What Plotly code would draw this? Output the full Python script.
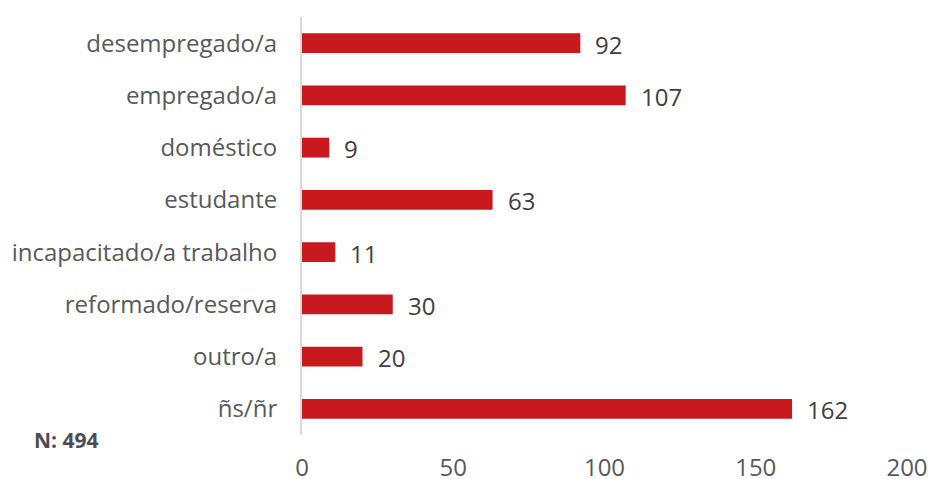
import plotly.graph_objects as go

categories = ["desempregado/a", "empregado/a", "doméstico", "estudante",
              "incapacitado/a trabalho", "reformado/reserva", "outro/a", "ñs/ñr"]
values = [92, 107, 9, 63, 11, 30, 20, 162]
x_ticks = [0, 50, 100, 150, 200]
note = "N: 494"

BAR = "#C8191F"
FONT = "Open Sans"

fig = go.Figure(go.Bar(
    x=values, y=categories, orientation="h",
    marker=dict(color=BAR, line=dict(width=0)),
    hoverinfo="skip",
))

for c, v in zip(categories, values):
    fig.add_annotation(x=v, y=c, text=str(v), showarrow=False, xanchor="left",
                       xshift=13, yshift=-1,
                       font=dict(family=FONT, size=24, color="#404040"))

fig.add_annotation(xref="paper", yref="paper", x=-0.446, y=-0.012, xanchor="left",
                   yanchor="middle", text="<b>" + note + "</b>", showarrow=False,
                   font=dict(family=FONT, size=21, color="#4a4d55"))

fig.update_layout(
    width=928, height=479,
    margin=dict(l=302, r=21, t=17, b=44, autoexpand=False),
    paper_bgcolor="white", plot_bgcolor="white",
    bargap=0.62, showlegend=False,
    font=dict(family=FONT, size=24, color="#595959"),
)
fig.update_xaxes(range=[0, 200], tickvals=x_ticks, showgrid=False, zeroline=False,
                 showline=False, ticks="", ticklabelstandoff=16, automargin=False,
                 tickfont=dict(family=FONT, size=24, color="#595959"))
fig.update_yaxes(autorange="reversed", showgrid=False, zeroline=False,
                 showline=True, linecolor="#d9d9d9", linewidth=2, ticks="",
                 ticklabelstandoff=18, automargin=False,
                 tickfont=dict(family=FONT, size=24, color="#595959"))

fig.write_html("out.html",
               config={"displayModeBar": False},
               post_script="document.body.style.margin='0';"
                           "document.body.style.overflow='hidden';")
